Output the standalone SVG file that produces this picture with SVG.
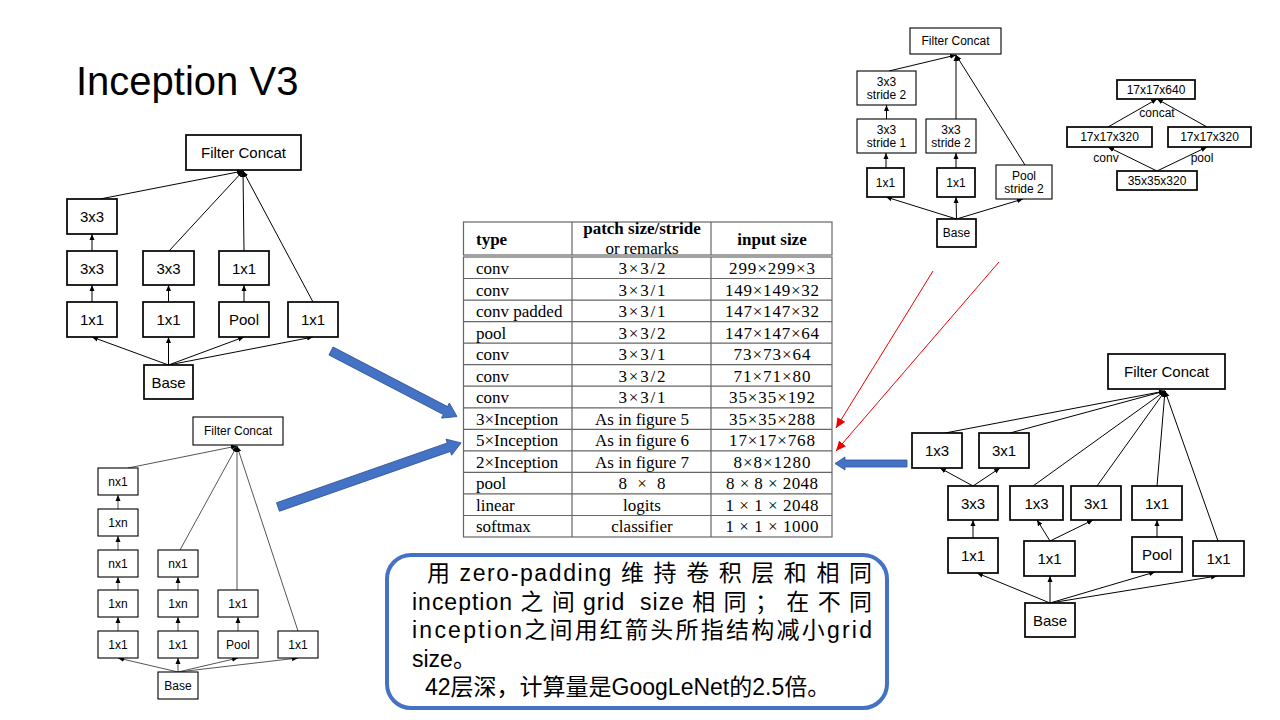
<svg xmlns="http://www.w3.org/2000/svg" width="1280" height="720" viewBox="0 0 1280 720">
<style>
.box{fill:#fff;stroke:#000;stroke-width:1.7}
.boxs{fill:#fff;stroke:#000;stroke-width:1.1}
.l15{font-family:"Liberation Sans",Arial,sans-serif;font-size:15px;text-anchor:middle;fill:#000}
.l12{font-family:"Liberation Sans",Arial,sans-serif;font-size:12px;text-anchor:middle;fill:#000}
.c{stroke:#000;stroke-width:1;fill:none;marker-end:url(#ah)}
.cg{stroke:#555;stroke-width:1;fill:none;marker-end:url(#ah)}
.red{stroke:#e00;stroke-width:1;fill:none;marker-end:url(#ahr)}
.tl{stroke:#666;stroke-width:1.2;fill:none}
.tt{font-family:"Liberation Serif","Times New Roman",serif;font-size:17px;fill:#000}
.tc{text-anchor:middle}
.tb{font-weight:bold}
.zh{font-family:"Liberation Sans","Noto Sans CJK SC",sans-serif;font-size:23px;fill:#000}
.blue{fill:#4472C4;stroke:#2F5597;stroke-width:0.8}
</style>
<defs>
<marker id="ah" markerUnits="userSpaceOnUse" markerWidth="6" markerHeight="6" refX="6" refY="3" orient="auto"><path d="M0,0.5 L6,3 L0,5.5z" fill="#000"/></marker>
<marker id="ahr" markerUnits="userSpaceOnUse" markerWidth="10" markerHeight="10" refX="10" refY="5" orient="auto"><path d="M0,0.5 L10,5 L0,9.5z" fill="#e00"/></marker>
</defs>
<rect width="1280" height="720" fill="#fff"/>
<text x="76" y="95" font-family="Liberation Sans, Arial, sans-serif" font-size="40" fill="#000">Inception V3</text>

<g id="connectors">
<!-- A -->
<line class="c" x1="92" y1="251" x2="92" y2="234"/>
<line class="c" x1="92" y1="302" x2="92" y2="285"/>
<line class="c" x1="168.5" y1="302" x2="168.5" y2="285"/>
<line class="c" x1="244" y1="302" x2="244" y2="285"/>
<line class="c" x1="168.5" y1="365" x2="92" y2="337"/>
<line class="c" x1="168.5" y1="365" x2="168.5" y2="337"/>
<line class="c" x1="168.5" y1="365" x2="244" y2="337"/>
<line class="c" x1="168.5" y1="365" x2="313" y2="337"/>
<line class="c" x1="100" y1="199" x2="243" y2="171"/>
<line class="c" x1="169" y1="251" x2="243" y2="171"/>
<line class="c" x1="244" y1="251" x2="243" y2="171"/>
<line class="c" x1="313" y1="302" x2="243" y2="171"/>
<!-- B -->
<line class="cg" x1="118" y1="509" x2="118" y2="495"/>
<line class="cg" x1="118" y1="550" x2="118" y2="536"/>
<line class="cg" x1="118" y1="590" x2="118" y2="577"/>
<line class="cg" x1="118" y1="631" x2="118" y2="617"/>
<line class="cg" x1="178" y1="590" x2="178" y2="577"/>
<line class="cg" x1="178" y1="631" x2="178" y2="617"/>
<line class="cg" x1="238" y1="631" x2="238" y2="617"/>
<line class="cg" x1="178" y1="672" x2="118" y2="658"/>
<line class="cg" x1="178" y1="672" x2="178" y2="658"/>
<line class="cg" x1="178" y1="672" x2="238" y2="658"/>
<line class="cg" x1="178" y1="672" x2="298" y2="658"/>
<line class="cg" x1="128" y1="468" x2="237" y2="446"/>
<line class="cg" x1="180" y1="550" x2="237" y2="446"/>
<line class="cg" x1="237" y1="590" x2="237" y2="446"/>
<line class="cg" x1="298" y1="631" x2="237" y2="446"/>
<!-- C -->
<line class="c" x1="886.5" y1="119" x2="886.5" y2="105"/>
<line class="c" x1="886" y1="168" x2="886" y2="153"/>
<line class="c" x1="956" y1="168" x2="956" y2="153"/>
<line class="c" x1="956.5" y1="219" x2="886" y2="197"/>
<line class="c" x1="956.5" y1="219" x2="956" y2="197"/>
<line class="c" x1="956.5" y1="219" x2="1023" y2="199"/>
<line class="c" x1="889" y1="71" x2="956" y2="55"/>
<line class="c" x1="956" y1="119" x2="956" y2="55"/>
<line class="c" x1="1025" y1="165" x2="956" y2="55"/>
<!-- D -->
<line class="c" x1="1157" y1="171" x2="1108" y2="147"/>
<line class="c" x1="1157" y1="171" x2="1207" y2="147"/>
<line class="c" x1="1108" y1="127" x2="1157" y2="99"/>
<line class="c" x1="1207" y1="127" x2="1157" y2="99"/>
<!-- E -->
<line class="c" x1="945" y1="433" x2="1165" y2="391"/>
<line class="c" x1="1010" y1="433" x2="1165" y2="391"/>
<line class="c" x1="1033" y1="486" x2="1165" y2="391"/>
<line class="c" x1="1097" y1="486" x2="1165" y2="391"/>
<line class="c" x1="1157" y1="486" x2="1165" y2="391"/>
<line class="c" x1="1218" y1="541" x2="1165" y2="391"/>
<line class="c" x1="973" y1="486" x2="940" y2="468"/>
<line class="c" x1="973" y1="486" x2="1000" y2="468"/>
<line class="c" x1="973" y1="538" x2="973" y2="520"/>
<line class="c" x1="1050" y1="541" x2="1037" y2="520"/>
<line class="c" x1="1050" y1="541" x2="1093" y2="520"/>
<line class="c" x1="1157" y1="537" x2="1157" y2="520"/>
<line class="c" x1="1050" y1="603" x2="977" y2="573"/>
<line class="c" x1="1050" y1="603" x2="1050" y2="576"/>
<line class="c" x1="1050" y1="603" x2="1155" y2="572"/>
<line class="c" x1="1050" y1="603" x2="1217" y2="576"/>
<!-- red -->
<line class="red" x1="933" y1="271" x2="836" y2="428"/>
<line class="red" x1="999" y1="262" x2="836" y2="451"/>
<!-- blue block arrows -->
<g transform="translate(331,351) rotate(27.5)"><polygon class="blue" points="0,-4.5 129,-4.5 129,-8.5 142,0 129,8.5 129,4.5 0,4.5"/></g>
<g transform="translate(278,507) rotate(-19.3)"><polygon class="blue" points="0,-4.5 181,-4.5 181,-8.5 194,0 181,8.5 181,4.5 0,4.5"/></g>
<polygon class="blue" points="907,460 845,460 845,457 835,463.5 845,470 845,467 907,467"/>
</g>

<!-- Diagram A -->
<g id="a-concat"><rect class="box" x="186" y="135" width="115" height="35"/><text class="l15" x="243.5" y="158">Filter Concat</text></g>
<g id="a-3x3-top"><rect class="box" x="67" y="199" width="50" height="35"/><text class="l15" x="92" y="222">3x3</text></g>
<g id="a-3x3-1"><rect class="box" x="67" y="251" width="50" height="34"/><text class="l15" x="92" y="273.5">3x3</text></g>
<g id="a-1x1-1"><rect class="box" x="67" y="302" width="50" height="35"/><text class="l15" x="92" y="325">1x1</text></g>
<g id="a-3x3-2"><rect class="box" x="143" y="251" width="51" height="34"/><text class="l15" x="168.5" y="273.5">3x3</text></g>
<g id="a-1x1-2"><rect class="box" x="143" y="302" width="51" height="35"/><text class="l15" x="168.5" y="325">1x1</text></g>
<g id="a-1x1-3"><rect class="box" x="219" y="251" width="50" height="34"/><text class="l15" x="244" y="273.5">1x1</text></g>
<g id="a-pool"><rect class="box" x="219" y="302" width="50" height="35"/><text class="l15" x="244" y="325">Pool</text></g>
<g id="a-1x1-4"><rect class="box" x="288" y="302" width="50" height="35"/><text class="l15" x="313" y="325">1x1</text></g>
<g id="a-base"><rect class="box" x="144" y="365" width="49" height="34"/><text class="l15" x="168.5" y="387.5">Base</text></g>

<!-- Diagram B -->
<g id="b-concat"><rect class="boxs" x="193" y="417" width="90" height="28"/><text class="l12" x="238" y="435.3">Filter Concat</text></g>
<g id="b-c1-1"><rect class="boxs" x="98" y="468" width="40" height="27"/><text class="l12" x="118" y="485.8">nx1</text></g>
<g id="b-c1-2"><rect class="boxs" x="98" y="509" width="40" height="27"/><text class="l12" x="118" y="526.8">1xn</text></g>
<g id="b-c1-3"><rect class="boxs" x="98" y="550" width="40" height="27"/><text class="l12" x="118" y="567.8">nx1</text></g>
<g id="b-c1-4"><rect class="boxs" x="98" y="590" width="40" height="27"/><text class="l12" x="118" y="607.8">1xn</text></g>
<g id="b-c1-5"><rect class="boxs" x="98" y="631" width="40" height="27"/><text class="l12" x="118" y="648.8">1x1</text></g>
<g id="b-c2-1"><rect class="boxs" x="158" y="550" width="40" height="27"/><text class="l12" x="178" y="567.8">nx1</text></g>
<g id="b-c2-2"><rect class="boxs" x="158" y="590" width="40" height="27"/><text class="l12" x="178" y="607.8">1xn</text></g>
<g id="b-c2-3"><rect class="boxs" x="158" y="631" width="40" height="27"/><text class="l12" x="178" y="648.8">1x1</text></g>
<g id="b-c3-1"><rect class="boxs" x="218" y="590" width="40" height="27"/><text class="l12" x="238" y="607.8">1x1</text></g>
<g id="b-pool"><rect class="boxs" x="218" y="631" width="40" height="27"/><text class="l12" x="238" y="648.8">Pool</text></g>
<g id="b-c4-1"><rect class="boxs" x="278" y="631" width="40" height="27"/><text class="l12" x="298" y="648.8">1x1</text></g>
<g id="b-base"><rect class="boxs" x="158" y="672" width="40" height="27"/><text class="l12" x="178" y="689.8">Base</text></g>

<!-- Diagram C -->
<g id="c-concat"><rect class="boxs" x="910" y="28" width="91" height="26"/><text class="l12" x="955.5" y="45.3">Filter Concat</text></g>
<g id="c-s2a"><rect class="boxs" x="857" y="71" width="59" height="34"/><text class="l12" x="886.5" y="86">3x3</text><text class="l12" x="886.5" y="99">stride 2</text></g>
<g id="c-s1"><rect class="boxs" x="857" y="119" width="59" height="34"/><text class="l12" x="886.5" y="134">3x3</text><text class="l12" x="886.5" y="147">stride 1</text></g>
<g id="c-s2b"><rect class="boxs" x="926" y="119" width="50" height="34"/><text class="l12" x="951" y="134">3x3</text><text class="l12" x="951" y="147">stride 2</text></g>
<g id="c-1x1a"><rect class="box" x="867" y="168" width="37" height="29"/><text class="l12" x="885.5" y="186.8">1x1</text></g>
<g id="c-1x1b"><rect class="box" x="937" y="168" width="38" height="29"/><text class="l12" x="956" y="186.8">1x1</text></g>
<g id="c-pool"><rect class="boxs" x="996" y="165" width="56" height="34"/><text class="l12" x="1024" y="180">Pool</text><text class="l12" x="1024" y="193">stride 2</text></g>
<g id="c-base"><rect class="box" x="937" y="219" width="39" height="28"/><text class="l12" x="956.5" y="237.3">Base</text></g>

<!-- Diagram D -->
<g id="d-640"><rect class="box" x="1117" y="80" width="78" height="19"/><text class="l12" x="1156" y="93.8">17x17x640</text></g>
<g id="d-320a"><rect class="box" x="1067" y="127" width="85" height="20"/><text class="l12" x="1109.5" y="141.3">17x17x320</text></g>
<g id="d-320b"><rect class="box" x="1168" y="127" width="83" height="20"/><text class="l12" x="1209.5" y="141.3">17x17x320</text></g>
<g id="d-35"><rect class="box" x="1117" y="171" width="80" height="19"/><text class="l12" x="1157" y="184.8">35x35x320</text></g>
<text class="l12" x="1157" y="117">concat</text>
<text class="l12" x="1106" y="162">conv</text>
<text class="l12" x="1202" y="162">pool</text>

<!-- Diagram E -->
<g id="e-concat"><rect class="box" x="1108" y="354" width="117" height="35"/><text class="l15" x="1166.5" y="377">Filter Concat</text></g>
<g id="e-1x3a"><rect class="box" x="912" y="433" width="50" height="35"/><text class="l15" x="937" y="456">1x3</text></g>
<g id="e-3x1a"><rect class="box" x="979" y="433" width="50" height="35"/><text class="l15" x="1004" y="456">3x1</text></g>
<g id="e-3x3"><rect class="box" x="948" y="486" width="50" height="34"/><text class="l15" x="973" y="508.5">3x3</text></g>
<g id="e-1x3b"><rect class="box" x="1010" y="486" width="53" height="34"/><text class="l15" x="1036.5" y="508.5">1x3</text></g>
<g id="e-3x1b"><rect class="box" x="1071" y="486" width="50" height="34"/><text class="l15" x="1096" y="508.5">3x1</text></g>
<g id="e-1x1p"><rect class="box" x="1132" y="486" width="50" height="34"/><text class="l15" x="1157" y="508.5">1x1</text></g>
<g id="e-1x1a"><rect class="box" x="948" y="538" width="50" height="35"/><text class="l15" x="973" y="561">1x1</text></g>
<g id="e-1x1b"><rect class="box" x="1024" y="541" width="51" height="35"/><text class="l15" x="1049.5" y="564">1x1</text></g>
<g id="e-pool"><rect class="box" x="1132" y="537" width="50" height="35"/><text class="l15" x="1157" y="560">Pool</text></g>
<g id="e-1x1c"><rect class="box" x="1193" y="541" width="51" height="35"/><text class="l15" x="1218.5" y="564">1x1</text></g>
<g id="e-base"><rect class="box" x="1025" y="603" width="50" height="34"/><text class="l15" x="1050" y="625.5">Base</text></g>

<!-- Table -->
<g id="table">
<rect class="tl" x="463.5" y="222" width="368.5" height="33" fill="#fff"/>
<rect class="tl" x="463.5" y="257" width="368.5" height="280" fill="#fff"/>
<line class="tl" x1="572" y1="222" x2="572" y2="255"/>
<line class="tl" x1="711" y1="222" x2="711" y2="255"/>
<line class="tl" x1="572" y1="257" x2="572" y2="537"/>
<line class="tl" x1="711" y1="257" x2="711" y2="537"/>
<path class="tl" d="M463.5,278.5H832 M463.5,300.1H832 M463.5,321.6H832 M463.5,343.2H832 M463.5,364.7H832 M463.5,386.2H832 M463.5,407.8H832 M463.5,429.3H832 M463.5,450.8H832 M463.5,472.4H832 M463.5,493.9H832 M463.5,515.5H832"/>
<text class="tt tb" x="476" y="245">type</text>
<text class="tt tb tc" x="642" y="234">patch size/stride</text>
<text class="tt tc" x="642" y="254">or remarks</text>
<text class="tt tb tc" x="772" y="245">input size</text>
<g class="tt">
<text x="476" y="274">conv</text>
<text x="476" y="295.5">conv</text>
<text x="476" y="317">conv padded</text>
<text x="476" y="338.5">pool</text>
<text x="476" y="360">conv</text>
<text x="476" y="381.5">conv</text>
<text x="476" y="403">conv</text>
<text x="476" y="424.5">3×Inception</text>
<text x="476" y="446">5×Inception</text>
<text x="476" y="467.5">2×Inception</text>
<text x="476" y="489">pool</text>
<text x="476" y="510.5">linear</text>
<text x="476" y="532">softmax</text>
</g>
<g class="tt tc">
<text x="642" y="274" textLength="47" lengthAdjust="spacing">3×3/2</text>
<text x="642" y="295.5" textLength="47" lengthAdjust="spacing">3×3/1</text>
<text x="642" y="317" textLength="47" lengthAdjust="spacing">3×3/1</text>
<text x="642" y="338.5" textLength="47" lengthAdjust="spacing">3×3/2</text>
<text x="642" y="360" textLength="47" lengthAdjust="spacing">3×3/1</text>
<text x="642" y="381.5" textLength="47" lengthAdjust="spacing">3×3/2</text>
<text x="642" y="403" textLength="47" lengthAdjust="spacing">3×3/1</text>
<text x="642" y="424.5">As in figure 5</text>
<text x="642" y="446">As in figure 6</text>
<text x="642" y="467.5">As in figure 7</text>
<text x="642" y="489" textLength="47" lengthAdjust="spacing">8 × 8</text>
<text x="642" y="510.5">logits</text>
<text x="642" y="532">classifier</text>
</g>
<g class="tt tc">
<text x="772" y="274" textLength="86" lengthAdjust="spacing">299×299×3</text>
<text x="772" y="295.5" textLength="94" lengthAdjust="spacing">149×149×32</text>
<text x="772" y="317" textLength="94" lengthAdjust="spacing">147×147×32</text>
<text x="772" y="338.5" textLength="94" lengthAdjust="spacing">147×147×64</text>
<text x="772" y="360" textLength="77" lengthAdjust="spacing">73×73×64</text>
<text x="772" y="381.5" textLength="77" lengthAdjust="spacing">71×71×80</text>
<text x="772" y="403" textLength="86" lengthAdjust="spacing">35×35×192</text>
<text x="772" y="424.5" textLength="86" lengthAdjust="spacing">35×35×288</text>
<text x="772" y="446" textLength="86" lengthAdjust="spacing">17×17×768</text>
<text x="772" y="467.5" textLength="77" lengthAdjust="spacing">8×8×1280</text>
<text x="772" y="489" textLength="92" lengthAdjust="spacing">8 × 8 × 2048</text>
<text x="772" y="510.5" textLength="93" lengthAdjust="spacing">1 × 1 × 2048</text>
<text x="772" y="532" textLength="93" lengthAdjust="spacing">1 × 1 × 1000</text>
</g>
</g>

<!-- Note box -->
<g id="note">
<rect x="387" y="555" width="500" height="153" rx="24" ry="24" fill="#fff" stroke="#4472C4" stroke-width="4"/>
<text class="zh" x="427" y="581" textLength="445" lengthAdjust="spacing">用 zero-padding 维 持 卷 积 层 和 相 同</text>
<text class="zh" x="412" y="609.5" textLength="460" lengthAdjust="spacing" xml:space="preserve">inception 之 间 grid  size 相 同 ； 在 不 同</text>
<text class="zh" x="412" y="638" textLength="460" lengthAdjust="spacing">inception之间用红箭头所指结构减小grid</text>
<text class="zh" x="412" y="666.5">size。</text>
<text class="zh" x="425" y="695">42层深，计算量是GoogLeNet的2.5倍。</text>
</g>
</svg>
